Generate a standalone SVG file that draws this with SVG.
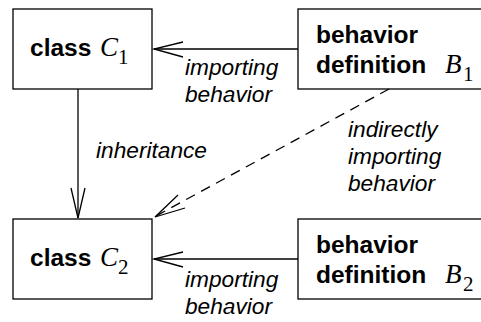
<svg xmlns="http://www.w3.org/2000/svg" width="481" height="322" viewBox="0 0 481 322">
<style>
.box{fill:#fff;stroke:#000;stroke-width:1.3}
.b{font-family:"Liberation Sans",Arial,sans-serif;font-weight:bold;font-size:24.5px;fill:#000}
.i{font-family:"Liberation Sans",Arial,sans-serif;font-style:italic;font-size:22.7px;fill:#000}
.m{font-family:"Liberation Serif","Times New Roman",serif;font-style:italic;font-size:27px;fill:#000}
.s{font-family:"Liberation Serif","Times New Roman",serif;font-size:21px;fill:#000}
.ln{fill:none;stroke:#000;stroke-width:1.3}
.d{fill:none;stroke:#000;stroke-width:1.3;stroke-dasharray:10 7}
</style>
<g id="C1">
<rect class="box" x="13" y="9" width="139" height="80"/>
<text class="b" x="30" y="56">class</text>
<text class="m" x="100" y="56">C</text>
<text class="s" x="118" y="64">1</text>
</g>
<g id="C2">
<rect class="box" x="13" y="219" width="139" height="80"/>
<text class="b" x="30" y="266">class</text>
<text class="m" x="100" y="266">C</text>
<text class="s" x="118" y="274">2</text>
</g>
<g id="B1">
<rect class="box" x="298" y="9" width="200" height="80"/>
<text class="b" x="316" y="43">behavior</text>
<text class="b" x="316" y="73">definition</text>
<text class="m" x="445" y="73">B</text>
<text class="s" x="463" y="81">1</text>
</g>
<g id="B2">
<rect class="box" x="298" y="219" width="200" height="80"/>
<text class="b" x="316" y="253">behavior</text>
<text class="b" x="316" y="283">definition</text>
<text class="m" x="445" y="283">B</text>
<text class="s" x="463" y="291">2</text>
</g>
<g id="connectors">
<line class="ln" x1="298" y1="49" x2="154" y2="49"/>
<polyline class="ln" points="183,42 154,49 183,57"/>
<line class="ln" x1="298" y1="259" x2="154" y2="259"/>
<polyline class="ln" points="183,252 154,259 183,267"/>
<line class="ln" x1="78" y1="89" x2="78" y2="218"/>
<polyline class="ln" points="71,188 78,218 85,188"/>
<line class="d" x1="389" y1="89" x2="156" y2="216"/>
<polyline class="ln" points="178,195 155,217 185,208"/>
<text class="i" x="185" y="75">importing</text>
<text class="i" x="185" y="102">behavior</text>
<text class="i" x="96" y="158">inheritance</text>
<text class="i" x="348" y="137">indirectly</text>
<text class="i" x="348" y="164">importing</text>
<text class="i" x="348" y="191">behavior</text>
<text class="i" x="185" y="287">importing</text>
<text class="i" x="185" y="314">behavior</text>
</g>
</svg>
